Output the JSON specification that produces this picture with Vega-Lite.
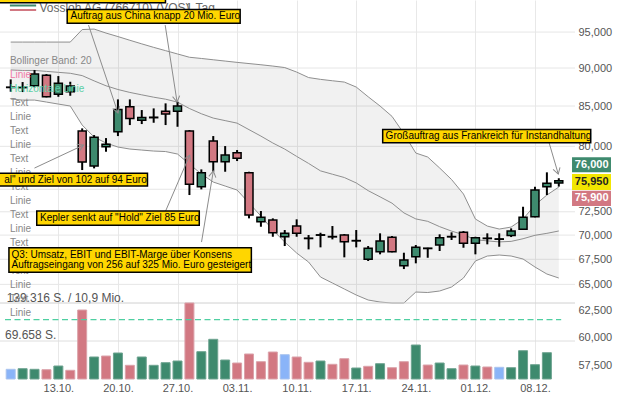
{
"$schema":"https://vega.github.io/schema/vega-lite/v6.json",
"width":575,"height":379,
"autosize":{"type":"none"},
"padding":{"left":0,"top":0,"right":44,"bottom":20},
"background":"white",
"config":{"view":{"stroke":null},"font":"Liberation Sans","axis":{"labelFont":"Liberation Sans","labelFontSize":11,"labelColor":"#555","domain":false,"ticks":false}},
"datasets":{
"days":[
{"t":0,"d":"07.10.","o":87450,"h":88472,"l":86844,"c":87400,"v":17780,"vd":"flat","up":93583,"mid":89739,"lo":85895},
{"t":1,"d":"08.10.","o":87380,"h":88120,"l":86805,"c":87430,"v":18880,"vd":"up","up":93583,"mid":89674,"lo":85765},
{"t":2,"d":"09.10.","o":87629,"h":89724,"l":87417,"c":89186,"v":17780,"vd":"up","up":93583,"mid":89674,"lo":85765},
{"t":3,"d":"10.10.","o":89011,"h":89186,"l":86113,"c":86191,"v":17050,"vd":"down","up":93583,"mid":89546,"lo":85508},
{"t":4,"d":"13.10.","o":86504,"h":88916,"l":86191,"c":87947,"v":23830,"vd":"up","up":93583,"mid":89417,"lo":85251},
{"t":5,"d":"14.10.","o":86844,"h":88160,"l":86322,"c":87590,"v":15950,"vd":"down","up":93583,"mid":89290,"lo":84997},
{"t":6,"d":"15.10.","o":81860,"h":82189,"l":77197,"c":78132,"v":126480,"vd":"down","up":95358,"mid":88980,"lo":82601},
{"t":7,"d":"16.10.","o":77662,"h":81368,"l":77391,"c":81085,"v":40330,"vd":"up","up":95429,"mid":88277,"lo":81125},
{"t":8,"d":"17.10.","o":79948,"h":80999,"l":79351,"c":80239,"v":42160,"vd":"down","up":94857,"mid":87627,"lo":80396},
{"t":9,"d":"20.10.","o":81774,"h":85851,"l":81245,"c":84570,"v":47660,"vd":"up","up":94360,"mid":87137,"lo":79914},
{"t":10,"d":"21.10.","o":84904,"h":85851,"l":82601,"c":83434,"v":25110,"vd":"down","up":93835,"mid":86755,"lo":79674},
{"t":11,"d":"22.10.","o":83188,"h":84486,"l":82726,"c":83561,"v":40330,"vd":"up","up":93329,"mid":86442,"lo":79554},
{"t":12,"d":"23.10.","o":83520,"h":84698,"l":82888,"c":83580,"v":25110,"vd":"up","up":92839,"mid":86137,"lo":79434},
{"t":13,"d":"24.10.","o":84321,"h":85341,"l":82601,"c":83979,"v":29880,"vd":"up","up":92380,"mid":85877,"lo":79374},
{"t":14,"d":"27.10.","o":84321,"h":85547,"l":82389,"c":84994,"v":32990,"vd":"up","up":91923,"mid":85500,"lo":79077},
{"t":15,"d":"28.10.","o":81860,"h":81983,"l":74348,"c":75555,"v":139316,"vd":"down","up":91468,"mid":84683,"lo":77897},
{"t":16,"d":"29.10.","o":75281,"h":77274,"l":74984,"c":76884,"v":50040,"vd":"up","up":91303,"mid":84019,"lo":76734},
{"t":17,"d":"30.10.","o":80639,"h":81245,"l":77000,"c":78167,"v":72770,"vd":"up","up":91124,"mid":83471,"lo":75817},
{"t":18,"d":"31.10.","o":78167,"h":80033,"l":77000,"c":78957,"v":34830,"vd":"up","up":90946,"mid":83154,"lo":75362},
{"t":19,"d":"03.11.","o":79232,"h":79554,"l":78249,"c":78564,"v":29330,"vd":"down","up":90769,"mid":82840,"lo":74910},
{"t":20,"d":"04.11.","o":76884,"h":77000,"l":71786,"c":72146,"v":45830,"vd":"down","up":90605,"mid":82033,"lo":73461},
{"t":21,"d":"05.11.","o":71423,"h":72582,"l":70886,"c":71895,"v":31710,"vd":"down","up":90442,"mid":81240,"lo":72037},
{"t":22,"d":"06.11.","o":71606,"h":71786,"l":69828,"c":70251,"v":49490,"vd":"down","up":90265,"mid":80401,"lo":70537},
{"t":23,"d":"07.11.","o":69828,"h":70537,"l":68859,"c":70188,"v":44540,"vd":"flat","up":90062,"mid":79668,"lo":69273},
{"t":24,"d":"10.11.","o":70962,"h":71681,"l":69828,"c":70188,"v":40330,"vd":"down","up":89454,"mid":78797,"lo":68140},
{"t":25,"d":"11.11.","o":69680,"h":70008,"l":68515,"c":69640,"v":30610,"vd":"down","up":88718,"mid":77971,"lo":67223},
{"t":26,"d":"12.11.","o":69990,"h":70251,"l":68723,"c":70030,"v":32990,"vd":"up","up":88478,"mid":77101,"lo":65724},
{"t":27,"d":"13.11.","o":69850,"h":70962,"l":69553,"c":69810,"v":26950,"vd":"down","up":88292,"mid":76713,"lo":65134},
{"t":28,"d":"14.11.","o":70008,"h":70114,"l":67698,"c":69307,"v":37210,"vd":"down","up":88119,"mid":76334,"lo":64549},
{"t":29,"d":"17.11.","o":69390,"h":70537,"l":68723,"c":69430,"v":20160,"vd":"up","up":87459,"mid":75714,"lo":63969},
{"t":30,"d":"18.11.","o":67492,"h":68859,"l":67325,"c":68619,"v":23280,"vd":"down","up":86192,"mid":74841,"lo":63490},
{"t":31,"d":"19.11.","o":68272,"h":70188,"l":68006,"c":69380,"v":28040,"vd":"up","up":84997,"mid":74147,"lo":63297},
{"t":32,"d":"20.11.","o":69765,"h":69902,"l":68211,"c":68272,"v":20710,"vd":"down","up":83689,"mid":73446,"lo":63202},
{"t":33,"d":"21.11.","o":66849,"h":68170,"l":66516,"c":67426,"v":31710,"vd":"down","up":81553,"mid":72378,"lo":63202},
{"t":34,"d":"24.11.","o":67759,"h":68963,"l":67092,"c":68723,"v":62320,"vd":"up","up":79195,"mid":71727,"lo":64258},
{"t":35,"d":"25.11.","o":68600,"h":68681,"l":67656,"c":68640,"v":25660,"vd":"down","up":78722,"mid":71466,"lo":64210},
{"t":36,"d":"26.11.","o":68963,"h":70082,"l":68344,"c":69722,"v":29330,"vd":"up","up":77434,"mid":70895,"lo":64356},
{"t":37,"d":"27.11.","o":69810,"h":70294,"l":69484,"c":69850,"v":18880,"vd":"up","up":76104,"mid":70424,"lo":64744},
{"t":38,"d":"28.11.","o":70294,"h":70431,"l":68681,"c":69140,"v":25660,"vd":"down","up":74462,"mid":70044,"lo":65625},
{"t":39,"d":"01.12.","o":69140,"h":69828,"l":68006,"c":69722,"v":23830,"vd":"up","up":71713,"mid":69519,"lo":67324},
{"t":40,"d":"02.12.","o":69680,"h":70188,"l":69036,"c":69640,"v":22000,"vd":"down","up":70958,"mid":69395,"lo":67832},
{"t":41,"d":"03.12.","o":69565,"h":70188,"l":68786,"c":69605,"v":21450,"vd":"flat","up":70641,"mid":69288,"lo":67934},
{"t":42,"d":"04.12.","o":69955,"h":70715,"l":69796,"c":70431,"v":20710,"vd":"up","up":70853,"mid":69343,"lo":67832},
{"t":43,"d":"05.12.","o":70607,"h":73050,"l":70537,"c":71895,"v":51870,"vd":"up","up":71713,"mid":69620,"lo":67527},
{"t":44,"d":"08.12.","o":71960,"h":75281,"l":71895,"c":74910,"v":26210,"vd":"up","up":73238,"mid":69979,"lo":66719},
{"t":45,"d":"09.12.","o":75281,"h":76931,"l":74348,"c":75669,"v":48210,"vd":"up","up":74351,"mid":70186,"lo":66021},
{"t":46,"d":"10.12.","o":75700,"h":76250,"l":75300,"c":75950,"up":75247,"mid":70436,"lo":65625}
],
"grid":[{"p":65000},{"p":67500},{"p":70000},{"p":72500},{"p":75000},{"p":80000},{"p":85000},{"p":90000},{"p":95000}],
"list":[
{"t":-0.066,"s":0,"txt":"Bollinger Band: 20","k":"gray"},
{"t":-0.066,"s":1,"txt":"Linie","k":"pink"},
{"t":-0.066,"s":2,"txt":"Horizontale Linie","k":"teal"},
{"t":-0.066,"s":3,"txt":"Text","k":"gray"},
{"t":-0.066,"s":4,"txt":"Linie","k":"gray"},
{"t":-0.066,"s":5,"txt":"Text","k":"gray"},
{"t":-0.066,"s":6,"txt":"Linie","k":"gray"},
{"t":-0.066,"s":7,"txt":"Text","k":"gray"},
{"t":-0.066,"s":8,"txt":"Linie","k":"gray"},
{"t":-0.066,"s":9,"txt":"Text","k":"gray"},
{"t":-0.066,"s":10,"txt":"Linie","k":"gray"},
{"t":-0.066,"s":11,"txt":"Text","k":"gray"},
{"t":-0.066,"s":12,"txt":"Linie","k":"gray"},
{"t":-0.066,"s":13,"txt":"Text","k":"gray"},
{"t":-0.066,"s":14,"txt":"Linie","k":"gray"},
{"t":-0.066,"s":15,"txt":"Text","k":"gray"},
{"t":-0.066,"s":16,"txt":"Linie","k":"gray"},
{"t":-0.066,"s":17,"txt":"Text","k":"gray"},
{"t":-0.066,"s":18,"txt":"Linie","k":"gray"}
],
"header":[
{"t":2.408,"s":-3.779,"txt":"Vossloh AG (766710) (VOS)"},
{"t":14.697,"s":-3.779,"txt":"1 Tag"}
],
"headerlines":[
{"t1":-0.066,"t2":2.136,"s":-3.943,"k":"up"},
{"t1":-0.066,"t2":2.136,"s":-3.621,"k":"down"}
],
"notes":[
{"x1":-1,"x2":12.99,"p1":99279,"p2":110000},
{"x1":4.742,"x2":19.258,"p1":96251,"p2":98299},
{"x1":-2,"x2":11.48,"p1":75361,"p2":76815},
{"x1":2.186,"x2":15.827,"p1":71037,"p2":72582},
{"x1":-0.148,"x2":20.198,"p1":66190,"p2":68681},
{"x1":31.22,"x2":48.68,"p1":80433,"p2":82064}
],
"notetexts":[
{"t":5.023,"p":97270,"txt":"Auftrag aus China knapp 20 Mio. Euro"},
{"t":-0.544,"p":76074,"txt":"al\" und Ziel von 102 auf 94 Euro"},
{"t":2.466,"p":71797,"txt":"Kepler senkt auf \"Hold\" Ziel 85 Euro"},
{"t":0.074,"p":67934,"txt":"Q3: Umsatz, EBIT und EBIT-Marge über Konsens"},
{"t":0.074,"p":66887,"txt":"Auftragseingang von 256 auf 325 Mio. Euro gesteigert"},
{"t":31.464,"p":81245,"txt":"Großauftrag aus Frankreich für Instandhaltung"}
],
"arrows":[
{"x1":6.532,"p1":96005,"x2":9.006,"p2":84106,"a":-18.8},
{"x1":12.965,"p1":96005,"x2":13.963,"p2":85508,"a":-8.9},
{"x1":1.996,"p1":77427,"x2":6.12,"p2":80154,"a":-114.7},
{"x1":12.965,"p1":72473,"x2":15.026,"p2":78957,"a":-156.3},
{"x1":16.016,"p1":69273,"x2":17.006,"p2":77081,"a":-170.4},
{"x1":45.047,"p1":81122,"x2":45.954,"p2":76734,"a":-16.6}
],
"quotes":[
{"k":"ask","x1":47.11,"x2":50.38,"p1":76931,"p2":78683,"tx":48.76,"tp":77779,"txt":"76,000"},
{"k":"last","x1":47.11,"x2":50.38,"p1":74910,"p2":76734,"tx":48.76,"tp":75817,"txt":"75,950"},
{"k":"bid","x1":47.11,"x2":50.38,"p1":73128,"p2":74831,"tx":48.76,"tp":73977,"txt":"75,900"}
]
},
"resolve":{"scale":{"y":"independent"}},
"layer":[
{
"layer":[
{"data":{"name":"grid"},"mark":{"type":"rule","color":"#e6e6e6","strokeWidth":1},
 "encoding":{"y":{"field":"p","type":"quantitative","title":null,"scale":{"type":"log","domain":[56378,99695],"nice":false},
  "axis":{"orient":"right","values":[57500,60000,62500,65000,67500,70000,72500,80000,85000,90000,95000],"format":",.0f","grid":false,"labelPadding":3,"title":null,"labelOverlap":false,"labelFontSize":11,"labelColor":"#555"}}}},
{"data":{"name":"days"},"mark":{"type":"area","color":"#000","opacity":0.055},
 "encoding":{"x":{"field":"t","type":"quantitative","title":null,"scale":{"domain":[-0.478,46.94],"nice":false,"zero":false},
   "axis":{"values":[4,9,14,19,24,29,34,39,44],"labelExpr":"['13.10.','20.10.','27.10.','03.11.','10.11.','17.11.','24.11.','01.12.','08.12.'][round((datum.value-4)/5)]","grid":true,"gridColor":"#e8e8e8","labelPadding":3,"labelFlush":false,"labelOverlap":false,"title":null}},
  "y":{"field":"lo","type":"quantitative","title":null},"y2":{"field":"up"}}},
{"data":{"name":"days"},"mark":{"type":"line","color":"#8f8f8f","strokeWidth":1},
 "encoding":{"x":{"field":"t","type":"quantitative","title":null},"y":{"field":"up","type":"quantitative","title":null}}},
{"data":{"name":"days"},"mark":{"type":"line","color":"#8f8f8f","strokeWidth":1},
 "encoding":{"x":{"field":"t","type":"quantitative","title":null},"y":{"field":"lo","type":"quantitative","title":null}}},
{"data":{"name":"days"},"mark":{"type":"line","color":"#8f8f8f","strokeWidth":1},
 "encoding":{"x":{"field":"t","type":"quantitative","title":null},"y":{"field":"mid","type":"quantitative","title":null}}},
{"data":{"name":"days"},"mark":{"type":"rule","color":"#000","strokeWidth":2},
 "encoding":{"x":{"field":"t","type":"quantitative","title":null},"y":{"field":"l","type":"quantitative","title":null},"y2":{"field":"h"}}},
{"data":{"name":"days"},"mark":{"type":"bar","width":8,"stroke":"#000","strokeWidth":1.5},
 "encoding":{"x":{"field":"t","type":"quantitative","title":null},"y":{"field":"o","type":"quantitative","title":null},"y2":{"field":"c"},
  "color":{"condition":{"test":"datum.c >= datum.o","value":"#3e8a6e"},"value":"#d27882"}}}
]
},
{
"layer":[
{"data":{"values":[{}]},"mark":{"type":"rule","color":"#d0d0d0","strokeWidth":1},
 "encoding":{"y":{"datum":139316,"type":"quantitative","scale":{"domain":[0,694770],"nice":false,"zero":true},"axis":null}}},
{"data":{"values":[{}]},"mark":{"type":"rule","color":"#dedede","strokeWidth":1},
 "encoding":{"y":{"datum":69658,"type":"quantitative","axis":null}}},
{"data":{"name":"days"},"mark":{"type":"bar","width":9,"strokeWidth":1},
 "encoding":{"x":{"field":"t","type":"quantitative","title":null},"y":{"field":"v","type":"quantitative","axis":null},
  "color":{"condition":[{"test":"datum.vd == 'up'","value":"#3e8a6e"},{"test":"datum.vd == 'flat'","value":"#8ab4f8"}],"value":"#d27882"},
  "stroke":{"condition":[{"test":"datum.vd == 'up'","value":"#6ea390"},{"test":"datum.vd == 'flat'","value":"#a9c3ee"}],"value":"#dba2aa"}}},
{"data":{"values":[{}]},"mark":{"type":"text","align":"left","baseline":"alphabetic","dy":-1.5,"fontSize":12,"color":"#555","font":"Liberation Sans"},
 "encoding":{"x":{"datum":-0.34,"type":"quantitative"},"y":{"datum":139316,"type":"quantitative","axis":null},"text":{"value":"139.316 S. / 10,9 Mio."}}},
{"data":{"values":[{}]},"mark":{"type":"text","align":"left","baseline":"alphabetic","dy":-2.5,"fontSize":12,"color":"#555","font":"Liberation Sans"},
 "encoding":{"x":{"datum":-0.478,"type":"quantitative"},"y":{"datum":69658,"type":"quantitative","axis":null},"text":{"value":"69.658 S."}}}
]
},
{
"layer":[
{"data":{"name":"list"},"mark":{"type":"text","align":"left","baseline":"middle","fontSize":10,"font":"Liberation Sans"},
 "encoding":{"x":{"field":"t","type":"quantitative","title":null},
  "y":{"field":"s","type":"quantitative","scale":{"domain":[-4.336,22.736],"reverse":true,"nice":false,"zero":false},"axis":null},
  "text":{"field":"txt"},
  "color":{"condition":[{"test":"datum.k == 'pink'","value":"#f27aa8"},{"test":"datum.k == 'teal'","value":"#5ccfa6"}],"value":"#888888"}}},
{"data":{"name":"headerlines"},"mark":{"type":"rule","strokeWidth":2},
 "encoding":{"x":{"field":"t1","type":"quantitative","title":null},"x2":{"field":"t2"},"y":{"field":"s","type":"quantitative","axis":null},
  "color":{"condition":{"test":"datum.k == 'up'","value":"#3e8a6e"},"value":"#d27882"}}},
{"data":{"name":"header"},"mark":{"type":"text","align":"left","baseline":"middle","fontSize":12,"color":"#666","font":"Liberation Sans"},
 "encoding":{"x":{"field":"t","type":"quantitative","title":null},"y":{"field":"s","type":"quantitative","axis":null},"text":{"field":"txt"}}}
]
},
{
"layer":[
{"data":{"values":[{}]},"mark":{"type":"rule","color":"#4fcfa1","strokeWidth":1.2,"strokeDash":[6,3.5]},
 "encoding":{"x":{"datum":-0.478,"type":"quantitative"},"x2":{"datum":46.2},
  "y":{"datum":61650,"type":"quantitative","scale":{"type":"log","domain":[56378,99695],"nice":false},"axis":null}}},
{"data":{"name":"arrows"},"mark":{"type":"rule","color":"#8c8c8c","strokeWidth":1},
 "encoding":{"x":{"field":"x1","type":"quantitative","title":null},"x2":{"field":"x2"},"y":{"field":"p1","type":"quantitative","axis":null},"y2":{"field":"p2"}}},
{"data":{"name":"arrows"},"mark":{"type":"point","shape":"M-0.6,-1L0,0L0.6,-1","filled":false,"stroke":"#8c8c8c","strokeWidth":1,"size":144,"opacity":1},
 "encoding":{"x":{"field":"x2","type":"quantitative","title":null},"y":{"field":"p2","type":"quantitative","axis":null},"angle":{"field":"a","type":"quantitative","scale":null}}},
{"data":{"name":"notes"},"mark":{"type":"rect","fill":"#ffd600","stroke":"#000","strokeWidth":1.5},
 "encoding":{"x":{"field":"x1","type":"quantitative","title":null},"x2":{"field":"x2"},"y":{"field":"p1","type":"quantitative","axis":null},"y2":{"field":"p2"}}},
{"data":{"name":"notetexts"},"mark":{"type":"text","align":"left","baseline":"middle","fontSize":10,"color":"#000","font":"Liberation Sans"},
 "encoding":{"x":{"field":"t","type":"quantitative","title":null},"y":{"field":"p","type":"quantitative","axis":null},"text":{"field":"txt"}}},
{"data":{"name":"quotes"},"mark":{"type":"rect"},
 "encoding":{"x":{"field":"x1","type":"quantitative","title":null},"x2":{"field":"x2"},"y":{"field":"p1","type":"quantitative","axis":null},"y2":{"field":"p2"},
  "color":{"condition":[{"test":"datum.k == 'ask'","value":"#3e8a6e"},{"test":"datum.k == 'last'","value":"#f2e600"}],"value":"#d27882"}}},
{"data":{"name":"quotes"},"mark":{"type":"text","align":"center","baseline":"middle","fontSize":11,"fontWeight":"bold","font":"Liberation Sans"},
 "encoding":{"x":{"field":"tx","type":"quantitative","title":null},"y":{"field":"tp","type":"quantitative","axis":null},"text":{"field":"txt"},
  "color":{"condition":{"test":"datum.k == 'last'","value":"#222"},"value":"#ffffff"}}}
]
}
]
}
